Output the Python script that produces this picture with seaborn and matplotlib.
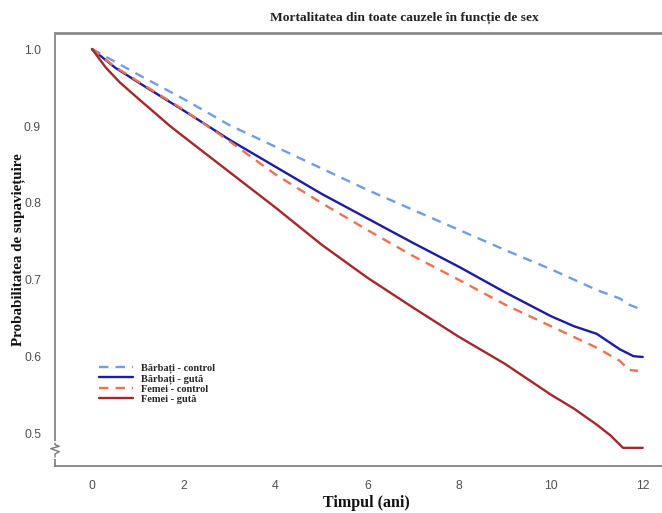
import numpy as np
import pandas as pd
import matplotlib
matplotlib.use("Agg")
import matplotlib.pyplot as plt
import seaborn as sns
from matplotlib.transforms import blended_transform_factory

# ---- data ----
series_names = ["Bărbați - control", "Bărbați - gută", "Femei - control", "Femei - gută"]

t_bc = [0, 1, 2, 3, 4, 5, 6, 7, 8, 9, 10, 11, 11.5, 11.7, 12]
s_bc = [1.000, 0.967, 0.935, 0.901, 0.873, 0.845, 0.817, 0.791, 0.765, 0.739, 0.714, 0.687, 0.676, 0.668, 0.661]

t_bg = [0, 0.5, 1, 2, 3, 4, 5, 6, 7, 8, 9, 10, 10.5, 11, 11.5, 11.8, 12]
s_bg = [1.000, 0.976, 0.957, 0.920, 0.882, 0.847, 0.812, 0.780, 0.748, 0.717, 0.684, 0.653, 0.640, 0.630, 0.610, 0.601, 0.600]

t_fc = [0, 0.5, 1, 2, 3, 4, 5, 6, 7, 8, 9, 10, 11, 11.5, 11.7, 11.9]
s_fc = [1.000, 0.977, 0.958, 0.921, 0.880, 0.837, 0.800, 0.765, 0.731, 0.700, 0.668, 0.640, 0.612, 0.595, 0.583, 0.582]

t_fg = [0, 0.3, 0.6, 1, 1.7, 2, 3, 4, 5, 6, 7, 8, 9, 10, 10.5, 11, 11.3, 11.57, 12]
s_fg = [1.000, 0.976, 0.957, 0.936, 0.900, 0.886, 0.840, 0.794, 0.746, 0.703, 0.664, 0.626, 0.591, 0.551, 0.533, 0.512, 0.498, 0.482, 0.482]

x_ticks = [0, 2, 4, 6, 8, 10, 12]
y_ticks = [0.5, 0.6, 0.7, 0.8, 0.9, 1.0]

title = "Mortalitatea din toate cauzele în funcție de sex"
xlabel = "Timpul (ani)"
ylabel = "Probabilitatea de supaviețuire"

colors = {
    "Bărbați - control": "#6f9de8",
    "Bărbați - gută": "#1c1ca0",
    "Femei - control": "#f0704f",
    "Femei - gută": "#a3282b",
}
dashes = {
    "Bărbați - control": (4, 3),
    "Bărbați - gută": "",
    "Femei - control": (4, 3),
    "Femei - gută": "",
}

frames = []
for name, t, s in zip(series_names, [t_bc, t_bg, t_fc, t_fg], [s_bc, s_bg, s_fc, s_fg]):
    frames.append(pd.DataFrame({"t": t, "s": s, "grup": name}))
df = pd.concat(frames, ignore_index=True)

sns.set_theme(style="white")
plt.rcParams["font.family"] = ["Liberation Sans", "DejaVu Sans"]

fig = plt.figure(figsize=(6.62, 5.13), dpi=100)
ax = fig.add_axes([55 / 662, 47 / 513, 1 - 55 / 662, (466 - 33) / 513])

sns.lineplot(data=df, x="t", y="s", hue="grup", style="grup", hue_order=series_names,
             style_order=series_names, palette=colors, dashes=dashes, linewidth=1.7,
             estimator=None, sort=False, ax=ax, legend=True)

ax.set_xlim(-0.806, 12.42)
ax.set_ylim(0.4584, 1.0208)
ax.set_xticks(x_ticks)
ax.set_xticklabels([str(v) for v in x_ticks])
ax.set_yticks(y_ticks)
ax.set_yticklabels([f"{v:.1f}" for v in y_ticks])

for sp in ["left", "bottom"]:
    ax.spines[sp].set_color("#7a7a7a")
    ax.spines[sp].set_linewidth(1.2)
ax.spines["right"].set_visible(False)
ax.spines["top"].set_color("#8c8c8c")
ax.spines["top"].set_linewidth(2.0)

ax.tick_params(axis="both", which="major", length=4, width=0.9, color="#7a7a7a",
               labelsize=8.8, labelcolor="#505050", direction="out")
ax.tick_params(axis="x", pad=6)
ax.tick_params(axis="y", pad=6)

serif = ["Liberation Serif", "DejaVu Serif"]
ax.set_xlabel(xlabel, fontsize=11.5, fontweight="bold", family=serif, color="#111111")
ax.set_ylabel(ylabel, fontsize=10.8, fontweight="bold", family=serif, color="#111111")
ax.xaxis.set_label_coords((366 - 55) / 607, -(503 - 466) / 433)
ax.yaxis.set_label_coords((18 - 55) / 607, (466 - 250) / 433)
ax.xaxis.label.set_va("center")
ax.yaxis.label.set_va("center")
fig.text(404 / 662, 1 - 18 / 513, title, ha="center", va="center", fontsize=9.7,
         fontweight="bold", family=serif, color="#222222")

# axis break mark on the y-axis
tr = blended_transform_factory(ax.transAxes, ax.transData)
ax.plot([0, 0], [0.470, 0.488], transform=tr, color="white", lw=3, clip_on=False, zorder=5)
zx = np.array([0.0, 0.0, 0.007, -0.007, 0.007, 0.0, 0.0])
zy = np.array([0.470, 0.474, 0.477, 0.481, 0.484, 0.486, 0.488])
ax.plot(zx, zy, transform=tr, color="#7a7a7a", lw=1.0, clip_on=False, zorder=6)

handles, labels = ax.get_legend_handles_labels()
hmap = dict(zip(labels, handles))
leg = ax.legend([hmap[n] for n in series_names], series_names, loc="upper left",
                bbox_to_anchor=(40 / 607, (466 - 359) / 433), frameon=False,
                prop={"family": serif, "weight": "bold", "size": 7.5},
                handlelength=3.2, handletextpad=0.8, labelspacing=0.05, borderaxespad=0)
for h in leg.get_lines():
    h.set_linewidth(1.7)

fig.savefig("out.png", dpi=100, facecolor="white")
